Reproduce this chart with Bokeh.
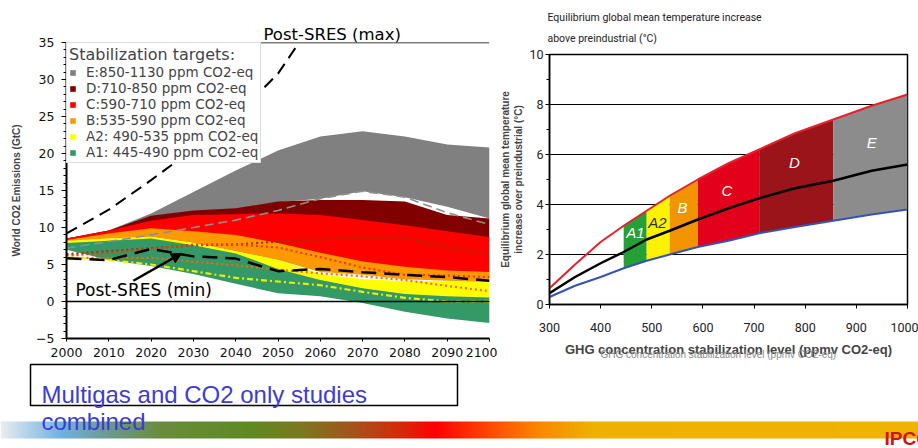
import numpy as np
from bokeh.plotting import figure
from bokeh.models import (Range1d, SingleIntervalTicker, FixedTicker, Legend, LegendItem,
                          Label, Arrow, NormalHead, Span)
from bokeh.embed import file_html
from bokeh.resources import INLINE
from bokeh.core.properties import value

# ---------------- left chart data (GtC) ----------------
years = [2000, 2010, 2020, 2030, 2040, 2050, 2060, 2070, 2080, 2090, 2100]
E_high = [8.5, 9.6, 11.9, 14.8, 17.7, 20.4, 22.3, 23.0, 22.3, 21.2, 20.8]
E_low = [8.2, 9.4, 11.0, 12.0, 12.5, 13.4, 13.9, 14.9, 14.1, 12.8, 11.2]
D_high = [8.5, 9.6, 11.6, 12.3, 12.6, 13.5, 13.7, 13.7, 13.5, 11.7, 11.2]
D_low = [8.2, 9.2, 10.5, 11.2, 11.3, 11.4, 11.2, 10.5, 9.8, 9.0, 8.2]
C_high = [8.5, 9.6, 10.9, 11.7, 11.8, 11.9, 11.7, 11.0, 10.3, 9.5, 8.7]
C_low = [8.0, 8.8, 9.2, 8.5, 8.0, 6.5, 5.0, 4.2, 3.6, 3.3, 3.2]
B_high = [8.3, 9.2, 9.9, 9.5, 9.0, 7.9, 6.6, 5.4, 4.7, 4.2, 4.0]
B_low = [8.1, 8.5, 8.7, 7.9, 6.8, 5.6, 4.0, 3.6, 3.0, 2.8, 2.6]
A2_high = [8.2, 8.5, 8.75, 7.9, 6.8, 5.6, 3.7, 3.0, 2.75, 2.75, 2.6]
A2_low = [7.4, 7.5, 7.5, 6.5, 5.0, 3.5, 2.0, 1.2, 0.6, 0.4, 0.3]
A1_high = [7.9, 8.2, 8.5, 7.6, 6.5, 4.4, 2.9, 1.8, 1.0, 0.7, 0.55]
A1_low = [7.0, 5.6, 4.8, 3.7, 2.4, 1.1, 0.7, -0.2, -1.4, -2.3, -2.9]

band_labels = ["E:850-1130 ppm CO2-eq", "D:710-850 ppm CO2-eq", "C:590-710 ppm CO2-eq",
               "B:535-590 ppm CO2-eq", "A2: 490-535 ppm CO2-eq", "A1: 445-490 ppm CO2-eq"]
band_colors = ["#808080", "#800000", "#ff0000", "#ff9900", "#ffff00", "#339966"]

sres_max_years = [2000, 2010, 2020, 2030, 2040, 2050, 2055]
sres_max = [9.2, 12.4, 16.4, 20.6, 25.0, 30.8, 35.0]
sres_min = [5.84, 5.6, 7.1, 6.1, 5.8, 4.1, 4.4, 3.95, 3.6, 3.3, 2.8]
gray_dashed = [7.2, 8.1, 9.0, 10.0, 11.0, 12.3, 13.9, 14.9, 14.1, 12.0, 10.4]
dot_D = [6.4, 6.8, 7.2, 7.6, 7.7, 8.1, 8.4, 8.6, 8.6, 7.3, 6.4]
dot_C = [6.2, 6.6, 7.1, 7.7, 7.7, 7.3, 6.0, 4.6, 3.6, 3.5, 3.3]
dot_B = [5.9, 5.9, 5.9, 5.4, 4.9, 4.3, 3.8, 3.4, 2.9, 2.1, 1.4]
dot_A2 = [6.0, 5.6, 5.0, 4.1, 3.2, 2.7, 2.2, 1.3, 0.5, 0.0, 0.0]

# ---------------- right chart data (deg C) ----------------
conc = [300, 350, 400, 445, 490, 535, 590, 650, 710, 780, 855, 930, 1000]
T_high = [0.65, 1.6, 2.5, 3.15, 3.75, 4.35, 5.0, 5.65, 6.2, 6.85, 7.4, 7.95, 8.4]
T_best = [0.45, 1.1, 1.65, 2.1, 2.6, 2.95, 3.4, 3.85, 4.25, 4.65, 4.95, 5.35, 5.6]
T_low = [0.3, 0.75, 1.1, 1.45, 1.75, 2.0, 2.3, 2.55, 2.85, 3.1, 3.35, 3.6, 3.8]
cat_names = ["A1", "A2", "B", "C", "D", "E"]
cat_bounds = [445, 490, 535, 590, 710, 855, 1000]
cat_colors = ["#24a036", "#fff200", "#f29400", "#e2001a", "#9b1419", "#8c8c8c"]
cat_text_colors = ["white", "#333333", "white", "white", "white", "white"]
cat_label_x = [468, 511, 560, 647, 779, 930]
cat_label_y = [2.9, 3.3, 3.9, 4.55, 5.7, 6.5]

# ---------------- banner decoration ----------------
banner_stop_x = [0, 60, 110, 160, 250, 300, 350, 400, 435, 490, 540, 590, 918]
banner_stop_colors = ["#e9eef0", "#72b2e2", "#6b9a8c", "#6a8d3c", "#5f8a22", "#7a7a1e",
                      "#a2561a", "#d62a0a", "#ff0000", "#ff4a00", "#f98a00", "#f0b000", "#f0b400"]

DJ = "DejaVu Sans"
LS = "Liberation Sans"
RB = "Roboto"

# ======================= LEFT FIGURE =======================
pl = figure(width=497, height=368, x_range=Range1d(2000, 2100), y_range=Range1d(-5, 35),
            output_backend="svg", toolbar_location=None, name="left_chart",
            min_border_left=66, min_border_right=8, min_border_top=42, min_border_bottom=30)
pl.grid.visible = False
pl.outline_line_color = None

lows = [E_low, D_low, C_low, B_low, A2_low, A1_low]
highs = [E_high, D_high, C_high, B_high, A2_high, A1_high]
items = []
for lab, lo, hi, col in zip(band_labels, lows, highs, band_colors):
    r = pl.varea(x=years, y1=lo, y2=hi, fill_color=col)
    items.append(LegendItem(label=lab, renderers=[r]))

pl.line(years, gray_dashed, line_color="#8f8f8f", line_width=1.6, line_dash="9 5")
pl.line(years, dot_D, line_color="#993300", line_width=2.2, line_dash="2 3")
pl.line(years, dot_C, line_color="#ff3300", line_width=2.2, line_dash="2 3")
pl.line(years, dot_B, line_color="#ff6600", line_width=2.2, line_dash="2 3")
pl.line(years, dot_A2, line_color="#eeee00", line_width=2.2, line_dash="6 3 2 3")
pl.line(sres_max_years, sres_max, line_color="black", line_width=2, line_dash="12 7")
pl.line(years, sres_min, line_color="black", line_width=2.5, line_dash="15 8")

pl.add_layout(Span(location=0, dimension="width", line_color="black", line_width=1.5))
pl.add_layout(Span(location=35, dimension="width", line_color="black", line_width=1.5))

pl.add_layout(Arrow(end=NormalHead(size=10, fill_color="black", line_color="black"),
                    x_start=2015.8, y_start=2.8, x_end=2027.2, y_end=6.5,
                    line_color="black", line_width=2.5))
pl.add_layout(Label(x=2002.1, y=1.5, text="Post-SRES (min)", text_baseline="middle",
                    text_font=DJ, text_font_size="17px", text_color="black"))

legend = Legend(items=items, location="top_left", margin=0, padding=2,
                title="Stabilization targets:", title_text_font=DJ,
                title_text_font_size="16px", title_text_font_style="normal",
                title_standoff=0,
                label_text_font=DJ, label_text_font_size="13.5px",
                glyph_width=7, glyph_height=7, label_height=15, label_standoff=10,
                spacing=0, border_line_color="#bdbdbd", border_line_width=1,
                background_fill_color="white", background_fill_alpha=1)
pl.add_layout(legend)

pl.xaxis.ticker = SingleIntervalTicker(interval=10, num_minor_ticks=0)
pl.yaxis.ticker = SingleIntervalTicker(interval=5, num_minor_ticks=5)
for ax in (pl.xaxis, pl.yaxis):
    ax.axis_line_color = "black"
    ax.axis_line_width = 2
    ax.major_tick_line_color = "black"
    ax.minor_tick_line_color = "black"
    ax.major_tick_in = 0
    ax.minor_tick_in = 0
    ax.major_label_text_font = DJ
    ax.major_label_text_font_size = "12.5px"
    ax.major_label_text_color = "#111111"
pl.xaxis.major_tick_out = 3
pl.xaxis.major_label_standoff = 6
pl.yaxis.major_tick_out = 5
pl.yaxis.minor_tick_out = 3
pl.yaxis.major_label_standoff = 7
pl.yaxis.axis_label = "World CO2 Emissions (GtC)"
pl.yaxis.axis_label_text_font = LS
pl.yaxis.axis_label_text_font_style = "bold"
pl.yaxis.axis_label_text_font_size = "10px"
pl.yaxis.axis_label_standoff = 11

# ======================= RIGHT FIGURE =======================
pr = figure(width=421, height=362, x_range=Range1d(300, 1000), y_range=Range1d(0, 10),
            output_backend="svg", toolbar_location=None, name="right_chart",
            min_border_left=49, min_border_right=11, min_border_top=54, min_border_bottom=58)
pr.xgrid.visible = False
pr.ygrid.ticker = FixedTicker(ticks=[2, 4, 6, 8])
pr.ygrid.grid_line_color = "black"
pr.ygrid.grid_line_width = 1.2
pr.outline_line_color = "black"
pr.outline_line_width = 1.5

for i, name in enumerate(cat_names):
    i0 = conc.index(cat_bounds[i])
    i1 = conc.index(cat_bounds[i + 1]) + 1
    pr.varea(x=conc[i0:i1], y1=T_low[i0:i1], y2=T_high[i0:i1], fill_color=cat_colors[i])

pr.line(conc, T_high, line_color="#e8202a", line_width=2)
pr.line(conc, T_low, line_color="#3553b5", line_width=2)
pr.line(conc, T_best, line_color="black", line_width=2.5)

pr.text(x=cat_label_x, y=cat_label_y, text=cat_names, text_color=cat_text_colors,
        text_font=value(LS), text_font_style="italic", text_font_size="15px",
        text_align="center", text_baseline="middle")

pr.xaxis.ticker = SingleIntervalTicker(interval=100, num_minor_ticks=0)
pr.yaxis.ticker = SingleIntervalTicker(interval=2, num_minor_ticks=2)
for ax in (pr.xaxis, pr.yaxis):
    ax.axis_line_color = "black"
    ax.axis_line_width = 1.5
    ax.major_tick_line_color = "black"
    ax.minor_tick_line_color = "black"
    ax.major_tick_in = 0
    ax.minor_tick_in = 0
    ax.major_tick_out = 4
    ax.minor_tick_out = 3
    ax.major_label_text_font = RB
    ax.major_label_text_font_size = "12.5px"
    ax.major_label_text_color = "#222222"
pr.xaxis.major_label_standoff = 14
pr.yaxis.major_label_standoff = 2
pr.xaxis.axis_label = "GHG concentration stabilization level (ppmv CO2-eq)"
pr.xaxis.axis_label_text_font = LS
pr.xaxis.axis_label_text_font_style = "bold"
pr.xaxis.axis_label_text_font_size = "13px"
pr.xaxis.axis_label_standoff = 7
pr.yaxis.axis_label = "Equilibrium global mean temperature\nincrease over preindustrial (°C)"
pr.yaxis.axis_label_text_font = LS
pr.yaxis.axis_label_text_font_style = "bold"
pr.yaxis.axis_label_text_font_size = "10px"
pr.yaxis.axis_label_standoff = 2

# ======================= OVERLAY (slide texts, box, banner) =======================
po = figure(width=918, height=448, x_range=Range1d(0, 918), y_range=Range1d(448, 0),
            output_backend="svg", toolbar_location=None, x_axis_type=None, y_axis_type=None,
            min_border=0, name="overlay")
po.grid.visible = False
po.outline_line_color = None
po.background_fill_alpha = 0
po.border_fill_alpha = 0


def hex_rgb(h):
    return [int(h[k:k + 2], 16) for k in (1, 3, 5)]


rgb = np.array([hex_rgb(c) for c in banner_stop_colors], dtype=float)
xs = np.arange(918) + 0.5
img = np.empty((1, 918), dtype=np.uint32)
view = img.view(dtype=np.uint8).reshape((1, 918, 4))
for k in range(3):
    view[0, :, k] = np.interp(xs, banner_stop_x, rgb[:, k]).astype(np.uint8)
view[0, :, 3] = 255
po.image_rgba(image=[img], x=0, y=421, dw=918, dh=17)

po.quad(left=[30], right=[457], top=[364], bottom=[405], fill_color="white",
        line_color="black", line_width=1.5)
po.text(x=[41, 41], y=[394, 421], text=["Multigas and CO2 only studies", "combined"],
        text_color="#3c3cd2", text_font=value(LS), text_font_size="24px",
        text_baseline="alphabetic")
po.text(x=[884], y=[437.5], text=["IPCC"], text_color="#d0101a",
        text_font=value(LS), text_font_style="bold", text_font_size="19px",
        text_baseline="alphabetic")
po.text(x=[263], y=[34], text=["Post-SRES (max)"], text_color="black",
        text_font=value(DJ), text_font_size="16.5px", text_baseline="middle")
po.text(x=[547, 547], y=[17, 38],
        text=["Equilibrium global mean temperature increase", "above preindustrial (°C)"],
        text_color="#222222", text_font=value(RB), text_font_size="10.5px",
        text_baseline="middle")
po.text(x=[600], y=[354], text=["GHG concentration stabilization level (ppmv CO2-eq)"],
        text_color="#8c8c8c", text_font=value(LS), text_font_size="10px",
        text_baseline="middle")

TEMPLATE = """
{% from macros import embed %}
{% block contents %}
<div style="position:absolute;left:0px;top:0px;">{{ embed(roots.left_chart) }}</div>
<div style="position:absolute;left:497px;top:0px;">{{ embed(roots.right_chart) }}</div>
<div style="position:absolute;left:0px;top:0px;">{{ embed(roots.overlay) }}</div>
{% endblock %}
"""

open("out.html", "w").write(file_html([pl, pr, po], INLINE, template=TEMPLATE))
